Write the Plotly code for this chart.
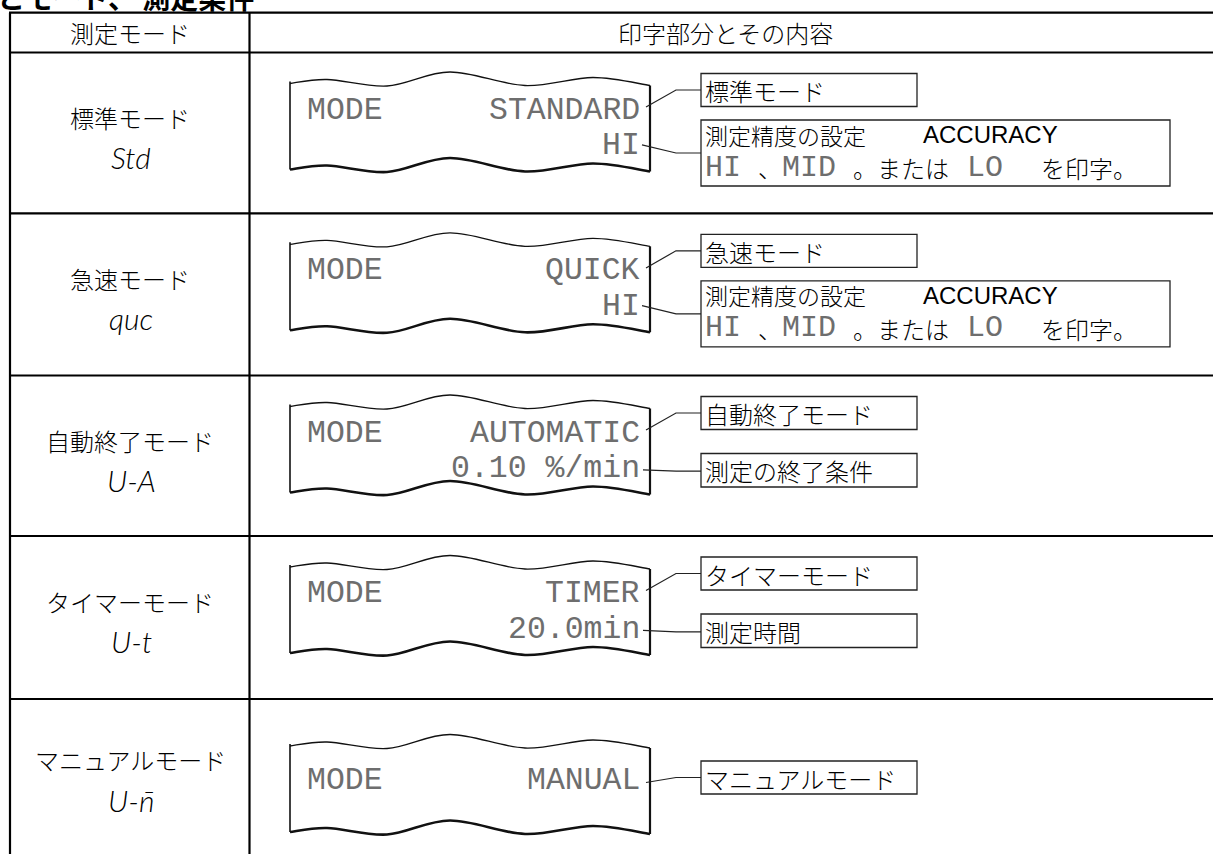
import plotly.graph_objects as go

# ---------------- data ----------------
title_text = "とモード、 測定条件"
header_left = "測定モード"
header_right = "印字部分とその内容"
mode_names = ["標準モード", "急速モード", "自動終了モード", "タイマーモード", "マニュアルモード"]
mode_codes = ["Std", "quc", "U-A", "U-t", "U-n\u0304"]
print_mode_word = "MODE"
print_line1 = ["STANDARD", "QUICK", "AUTOMATIC", "TIMER", "MANUAL"]
print_line2 = ["HI", "HI", "0.10 %/min", "20.0min", ""]
label_line1 = ["標準モード", "急速モード", "自動終了モード", "タイマーモード", "マニュアルモード"]
label_line2 = ["測定精度の設定", "測定精度の設定", "測定の終了条件", "測定時間", ""]
accuracy_word = "ACCURACY"
accuracy_parts = ["HI", "、", "MID", "。または", "LO", "を印字。"]
accuracy_is_dot = [True, False, True, False, True, False]

# ---------------- layout constants ----------------
W, H = 1213, 854
JP = "Noto Sans CJK JP"
DOT = "Liberation Mono"
SEG = "Lato"
LAT = "Liberation Sans"
ROW_TOPS = [52.5, 213.3, 375.5, 536.0, 699.0]
TABLE_TOP = 12.7
LEFT_X, DIV_X = 10, 249.5
PAPER_L, PAPER_R = 290, 650
WAVE_DX = [0, 37, 97, 160, 235, 303, 360]
WAVE_DY = [0, -4, 2.5, -11.5, 2, -6, 2]
DOT_COLOR = "#6e6e6e"
DOT_SIZE = 31.5
ACC_X = [704, 757, 781, 852, 966, 1040]

shapes = []
annotations = []


def line(x0, y0, x1, y1, w=2, color="black"):
    shapes.append(dict(type="line", x0=x0, y0=y0, x1=x1, y1=y1, xref="x", yref="y",
                       line=dict(color=color, width=w)))


def rect(x0, y0, x1, y1, w=1.3):
    shapes.append(dict(type="rect", x0=x0, y0=y0, x1=x1, y1=y1, xref="x", yref="y",
                       line=dict(color="#222", width=w), fillcolor="rgba(0,0,0,0)"))


def polyline(pts, w=1.2):
    d = "M %.1f %.1f " % pts[0] + " ".join("L %.1f %.1f" % p for p in pts[1:])
    shapes.append(dict(type="path", path=d, xref="x", yref="y",
                       line=dict(color="#222", width=w)))


def wave(base_y, w):
    pts = [(PAPER_L + dx, base_y + dy) for dx, dy in zip(WAVE_DX, WAVE_DY)]
    ext = [pts[0]] + pts + [pts[-1]]
    d = "M %.1f %.1f" % pts[0]
    for i in range(1, len(ext) - 2):
        p0, p1, p2, p3 = ext[i - 1], ext[i], ext[i + 1], ext[i + 2]
        c1 = (p1[0] + (p2[0] - p0[0]) / 6, p1[1] + (p2[1] - p0[1]) / 6)
        c2 = (p2[0] - (p3[0] - p1[0]) / 6, p2[1] - (p3[1] - p1[1]) / 6)
        d += " C %.1f %.1f %.1f %.1f %.1f %.1f" % (c1 + c2 + p2)
    shapes.append(dict(type="path", path=d, xref="x", yref="y",
                       line=dict(color="#111", width=w)))
    return pts


def text(x, y, s, size, family, color="black", xanchor="center", weight=300,
         style="normal", xref="x", yref="y"):
    annotations.append(dict(x=x, y=y, xref=xref, yref=yref, text=s, showarrow=False,
                            xanchor=xanchor, yanchor="middle", borderpad=0,
                            font=dict(size=size, family=family, color=color,
                                      weight=weight, style=style)))


# ---------------- table grid ----------------
for y in [TABLE_TOP] + ROW_TOPS:
    line(LEFT_X - 1, y, W + 5, y, w=2.2)
line(LEFT_X, TABLE_TOP, LEFT_X, H + 5, w=2.2)
line(DIV_X, TABLE_TOP, DIV_X, H + 5, w=2.2)

# title (cut off at top of the page)
text(-4.0 / W, 1 + 3.0 / H, title_text, 28, JP, xanchor="left", weight="bold",
     xref="paper", yref="paper")

# headers
text(130, 32.5, header_left, 24, JP)
text(725, 32.5, header_right, 24, JP)

# ---------------- rows ----------------
for r, top in enumerate(ROW_TOPS):
    # left column
    name_off, code_off = (65, 104.5) if r < 4 else (60, 101)
    text(130, top + name_off, mode_names[r], 24, JP)
    text(131, top + code_off, mode_codes[r], 30, SEG, style="italic", weight=300)

    single = print_line2[r] == ""
    paper_top = top + (31 if not single else 47)
    paper_bot = paper_top + 86
    tp = wave(paper_top, 1.3)
    bp = wave(paper_bot, 2.6)
    line(tp[0][0], tp[0][1] - 2, bp[0][0], bp[0][1], w=1.6, color="#111")
    line(tp[-1][0], tp[-1][1], bp[-1][0], bp[-1][1], w=2.2, color="#111")

    l1 = top + (57.6 if not single else 81.5)
    text(306, l1, print_mode_word, DOT_SIZE, DOT, color=DOT_COLOR, xanchor="left",
         weight="normal")
    text(641, l1, print_line1[r], DOT_SIZE, DOT, color=DOT_COLOR, xanchor="right",
         weight="normal")

    # box A
    if not single:
        a0, a1 = top + 21, top + 54
    else:
        a0, a1 = top + 62, top + 95
    rect(701, a0, 917, a1)
    am = (a0 + a1) / 2
    text(704, am + 0.5, label_line1[r], 24, JP, xanchor="left")
    polyline([(646, l1 - 3 + (0 if not single else 5)), (676, am), (701, am)])

    if single:
        continue
    l2 = top + 93.4
    text(641, l2, print_line2[r], DOT_SIZE, DOT, color=DOT_COLOR, xanchor="right",
         weight="normal")

    if r < 2:
        b0, b1 = top + 67.5, top + 133.5
        rect(701, b0, 1170, b1)
        bm = (b0 + b1) / 2
        text(704, b0 + 14.5, label_line2[r], 23, JP, xanchor="left")
        text(922, b0 + 14.5, accuracy_word, 24, LAT, xanchor="left", weight="normal")
        for px, part, is_dot in zip(ACC_X, accuracy_parts, accuracy_is_dot):
            if is_dot:
                text(px, b0 + 47.5, part, 30, DOT, color=DOT_COLOR, xanchor="left",
                     weight="normal")
            else:
                text(px, b0 + 47.5, part, 24, JP, xanchor="left")
        polyline([(642, l2 - 1), (676, bm), (701, bm)])
    else:
        b0, b1 = top + 78, top + 111.5
        rect(701, b0, 917, b1)
        bm = (b0 + b1) / 2
        text(704, bm + 0.5, label_line2[r], 24, JP, xanchor="left")
        polyline([(643, l2 + 1), (676, bm + 1), (701, bm + 1)])

fig = go.Figure()
fig.update_layout(
    width=W, height=H, margin=dict(l=0, r=0, t=0, b=0),
    paper_bgcolor="white", plot_bgcolor="white", showlegend=False,
    xaxis=dict(range=[0, W], visible=False, fixedrange=True),
    yaxis=dict(range=[H, 0], visible=False, fixedrange=True),
    shapes=shapes, annotations=annotations,
)
fig.write_html("out.html", config={"displayModeBar": False},
               post_script="document.body.style.margin='0px';"
                           "document.body.style.overflow='hidden';")
